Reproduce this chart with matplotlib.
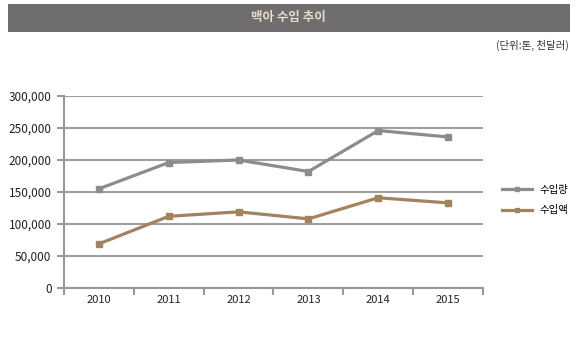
import matplotlib
matplotlib.use("Agg")
import matplotlib.pyplot as plt
from matplotlib.patches import Rectangle
from matplotlib.ticker import FuncFormatter

plt.rcParams['font.family'] = ['Noto Sans CJK KR', 'DejaVu Sans']

years = ['2010', '2011', '2012', '2013', '2014', '2015']
volume = [155000, 196000, 200000, 182000, 246000, 236000]   # 수입량
value = [69000, 112000, 119000, 108000, 141000, 133000]     # 수입액
series_names = ['수입량', '수입액']
title = '맥아 수입 추이'
unit = '(단위:톤, 천달러)'
yticks = [0, 50000, 100000, 150000, 200000, 250000, 300000]

W, H = 577, 342
fig = plt.figure(figsize=(W / 100, H / 100), dpi=100)

# title bar
fig.patches.append(Rectangle((8 / W, 1 - 32 / H), 562 / W, 28 / H,
                             transform=fig.transFigure, facecolor='#6f6d6d',
                             edgecolor='none', zorder=0))
fig.text(288 / W, 1 - 17 / H, title, ha='center', va='center',
         color='#e6dccf', fontsize=9, fontweight='bold')
fig.text(569 / W, 1 - 45 / H, unit, ha='right', va='center',
         color='#333333', fontsize=7.5)

ax = fig.add_axes([64 / W, 1 - 288 / H, 419 / W, 192 / H])
x = list(range(len(years)))
gray = '#8c8c8c'
brown = '#a2835f'
ax.plot(x, volume, color=gray, lw=2.3, marker='s', ms=5, label=series_names[0], zorder=3)
ax.plot(x, value, color=brown, lw=2.3, marker='s', ms=5, label=series_names[1], zorder=3)

ax.set_xlim(-0.5, len(years) - 0.5)
ax.set_ylim(0, 300000)
ax.set_yticks(yticks)
ax.yaxis.set_major_formatter(FuncFormatter(lambda v, p: f'{int(v):,}'))
ax.set_xticks([i - 0.5 for i in range(len(years) + 1)], minor=False)
ax.set_xticklabels([''] * (len(years) + 1))
ax.set_xticks(x, minor=True)
ax.set_xticklabels(years, minor=True)
ax.tick_params(axis='x', which='minor', length=0, pad=5, labelsize=8, labelcolor='#222222')
ax.tick_params(axis='x', which='major', length=5, width=1.5, color='#999999', direction='out')
ax.tick_params(axis='y', length=5, width=1.5, color='#999999', labelsize=8.5,
               labelcolor='#222222', pad=4)
ax.grid(axis='y', color='#a0a0a0', lw=1.5, zorder=1)
for s in ['top', 'right']:
    ax.spines[s].set_visible(False)
for s in ['left', 'bottom']:
    ax.spines[s].set_color('#999999')
    ax.spines[s].set_linewidth(1.5)
ax.spines['left'].set_bounds(0, 300000)

fig.legend(loc='center left', bbox_to_anchor=(493 / W, 1 - 200 / H), frameon=False,
           fontsize=7.5, handlelength=2.8, labelspacing=1.0, handletextpad=0.8,
           markerscale=0.7)

fig.savefig('out.png', dpi=100)
